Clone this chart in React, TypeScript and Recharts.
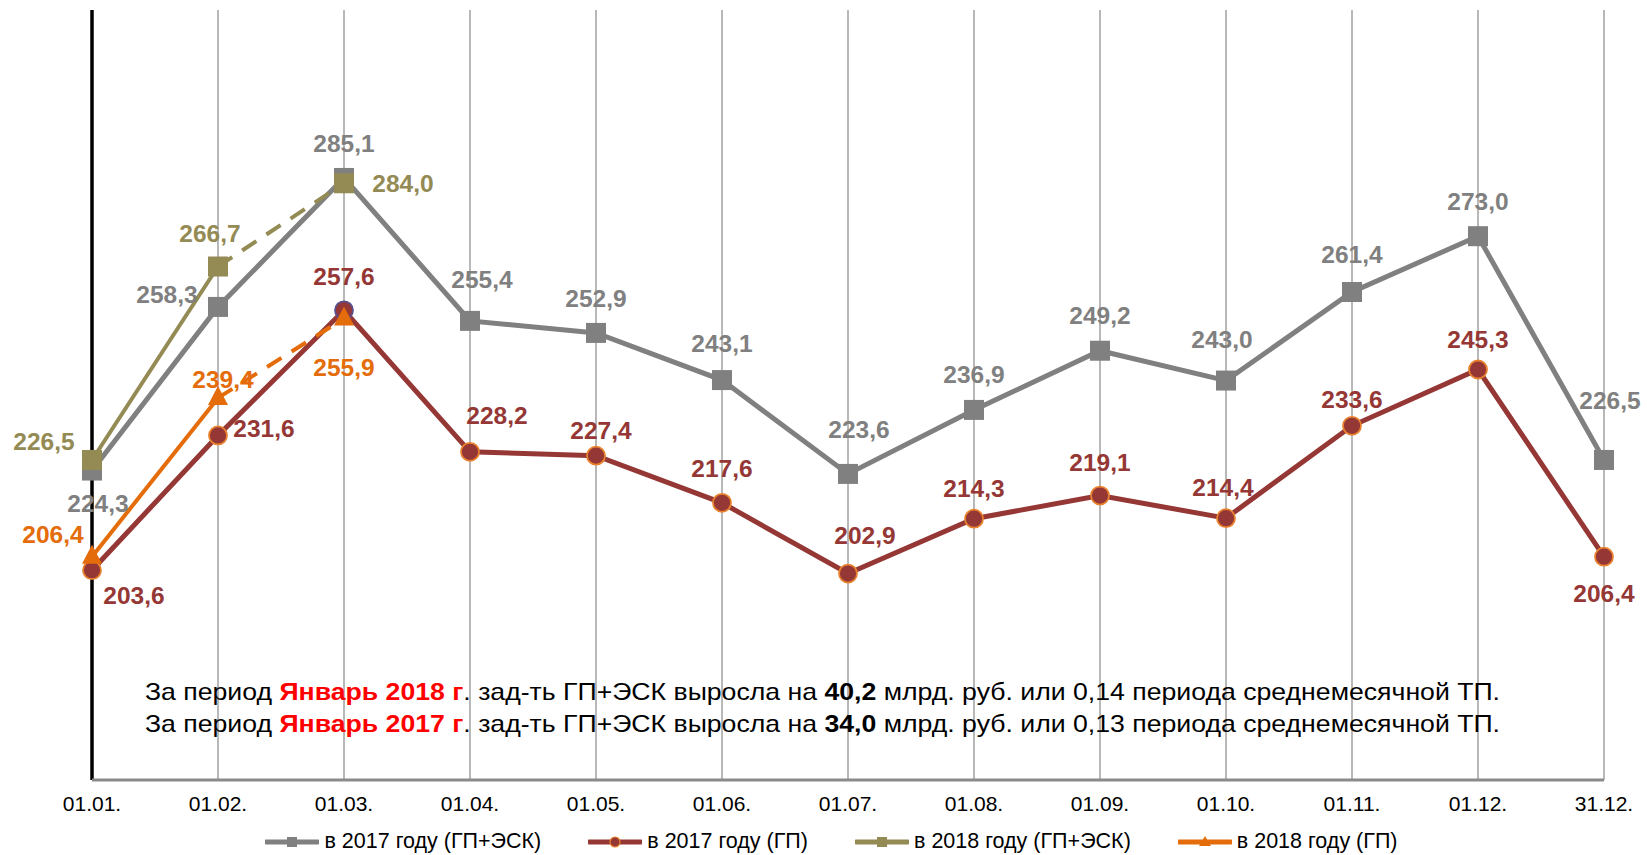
import React from 'react';
import { LineChart, Line, XAxis, YAxis, CartesianGrid, Legend, LabelList, ReferenceLine } from 'recharts';

const dates = ['01.01.', '01.02.', '01.03.', '01.04.', '01.05.', '01.06.', '01.07.', '01.08.', '01.09.', '01.10.', '01.11.', '01.12.', '31.12.'];
const total2017 = [224.3, 258.3, 285.1, 255.4, 252.9, 243.1, 223.6, 236.9, 249.2, 243.0, 261.4, 273.0, 226.5];
const gp2017 = [203.6, 231.6, 257.6, 228.2, 227.4, 217.6, 202.9, 214.3, 219.1, 214.4, 233.6, 245.3, 206.4];
const total2018 = [226.5, 266.7, 284.0];
const gp2018 = [206.4, 239.4, 255.9];

const legendItems = [
  { name: 'в 2017 году (ГП+ЭСК)', color: '#808080', marker: 'square' },
  { name: 'в 2017 году (ГП)', color: '#953735', marker: 'circle' },
  { name: 'в 2018 году (ГП+ЭСК)', color: '#948A54', marker: 'square' },
  { name: 'в 2018 году (ГП)', color: '#E46C0A', marker: 'triangle' },
];

// label offsets from the point (centre of text), px
const shiftTotal2017 = [[6, 33], [-51, -13], [0, -35], [12, -42], [0, -35], [0, -37], [11, -45], [0, -36], [0, -36], [-4, -41], [0, -38], [0, -35], [6, -60]];
const shiftGp2017 = [[42, 25], [46, -7], [0, -34], [27, -37], [5, -25], [0, -35], [17, -38], [0, -31], [0, -33], [-3, -31], [0, -27], [0, -30], [0, 36]];
const shiftTotal2018 = [[-48, -19], [-8, -33], [59, 0]];
const shiftGp2018 = [[-39, -23], [5, -19], [0, 49]];

const data = dates.map((d, i) => ({
  date: d,
  t17: total2017[i],
  g17: gp2017[i],
  t18: i < total2018.length ? total2018[i] : null,
  t18solid: i < 2 ? total2018[i] : null,
  t18dash: i >= 1 && i < total2018.length ? total2018[i] : null,
  g18: i < gp2018.length ? gp2018[i] : null,
  g18solid: i < 2 ? gp2018[i] : null,
  g18dash: i >= 1 && i < gp2018.length ? gp2018[i] : null,
}));

const FONT = '"Liberation Sans", Arial, sans-serif';
const fmt = (v: number) => v.toFixed(1).replace('.', ',');

const makeLabel = (color: string, shifts: number[][]) => (p: any) => {
  const { x, y, value, index } = p;
  if (value == null || y == null) return null;
  const [dx, dy] = shifts[index] || [0, -35];
  return (
    <text key={`l${index}`} x={x + dx} y={y + dy} dy="0.36em" textAnchor="middle"
      fill={color} fontSize={24.5} fontWeight="bold" fontFamily={FONT}>
      {fmt(value)}
    </text>
  );
};

const squareDot = (color: string) => (p: any) => {
  const { cx, cy, index } = p;
  if (cy == null || p.value == null) return <g key={`s${index}`} />;
  return <rect key={`s${index}`} x={cx - 10} y={cy - 10} width={20} height={20} fill={color} />;
};

const circleDot = (p: any) => {
  const { cx, cy, index } = p;
  if (cy == null) return <g key={`c${index}`} />;
  return (
    <circle key={`c${index}`} cx={cx} cy={cy} r={9} fill="#953735"
      stroke={index === 2 ? '#5A4E8C' : '#E9822F'} strokeWidth={1.8} />
  );
};

const triDot = (p: any) => {
  const { cx, cy, index } = p;
  if (cy == null || p.value == null) return <g key={`t${index}`} />;
  return <polygon key={`t${index}`} points={`${cx},${cy - 12} ${cx - 10},${cy + 7} ${cx + 10},${cy + 7}`} fill="#E46C0A" />;
};

const LegendIcon = ({ color, marker }: { color: string; marker: string }) => (
  <svg width={54} height={14} style={{ display: 'block' }}>
    <line x1={1} y1={7} x2={53} y2={7} stroke={color} strokeWidth={5} strokeLinecap="round" />
    {marker === 'square' && <rect x={22} y={2} width={10} height={10} fill={color} />}
    {marker === 'circle' && <circle cx={27} cy={7} r={5} fill={color} stroke="#E9822F" strokeWidth={1.2} />}
    {marker === 'triangle' && <polygon points="27,1 21,11 33,11" fill={color} />}
  </svg>
);

const renderLegend = () => (
  <div style={{ display: 'flex', justifyContent: 'center', alignItems: 'center', gap: 47, fontFamily: FONT, fontSize: 21.5, color: '#000' }}>
    {legendItems.map((it) => (
      <div key={it.name} style={{ display: 'flex', alignItems: 'center', gap: 5 }}>
        <LegendIcon color={it.color} marker={it.marker} />
        <span>{it.name}</span>
      </div>
    ))}
  </div>
);

export default function App() {
  return (
    <div style={{ position: 'absolute', left: 0, top: 0, width: 1647, height: 855, background: '#fff' }}>
      <LineChart width={1647} height={855} data={data} margin={{ top: 10, right: 43, bottom: 30, left: 92 }}>
        <CartesianGrid horizontal={false} stroke="#A0A0A0" strokeWidth={1.5} />
        <XAxis dataKey="date" scale="point" padding={{ left: 0, right: 0 }} height={45}
          axisLine={{ stroke: '#8A8A8A', strokeWidth: 3 }} tickLine={false} tickMargin={10}
          tick={{ fill: '#000', fontSize: 21, fontFamily: FONT }} interval={0} />
        <YAxis domain={[160, 320]} width={0} tick={false} tickLine={false} axisLine={false} allowDataOverflow />
        <ReferenceLine x={dates[0]} stroke="#000" strokeWidth={3.5} />
        <Legend verticalAlign="middle" align="center" layout="horizontal" content={renderLegend}
          wrapperStyle={{ top: 829, left: 8, width: 1647, height: 28 }} />

        <Line dataKey="t17" stroke="#808080" strokeWidth={5} isAnimationActive={false}
          dot={squareDot('#808080')} activeDot={false}>
          <LabelList dataKey="t17" content={makeLabel('#808080', shiftTotal2017)} />
        </Line>
        <Line dataKey="g17" stroke="#953735" strokeWidth={5} isAnimationActive={false}
          dot={circleDot} activeDot={false}>
          <LabelList dataKey="g17" content={makeLabel('#953735', shiftGp2017)} />
        </Line>

        <Line dataKey="t18solid" stroke="#948A54" strokeWidth={4} isAnimationActive={false} dot={false} activeDot={false} />
        <Line dataKey="t18dash" stroke="#948A54" strokeWidth={4} strokeDasharray="17 12" isAnimationActive={false} dot={false} activeDot={false} />
        <Line dataKey="t18" stroke="none" isAnimationActive={false} dot={squareDot('#948A54')} activeDot={false}>
          <LabelList dataKey="t18" content={makeLabel('#948A54', shiftTotal2018)} />
        </Line>

        <Line dataKey="g18solid" stroke="#E46C0A" strokeWidth={4} isAnimationActive={false} dot={false} activeDot={false} />
        <Line dataKey="g18dash" stroke="#E46C0A" strokeWidth={4} strokeDasharray="17 12" isAnimationActive={false} dot={false} activeDot={false} />
        <Line dataKey="g18" stroke="none" isAnimationActive={false} dot={triDot} activeDot={false}>
          <LabelList dataKey="g18" content={makeLabel('#E46C0A', shiftGp2018)} />
        </Line>
      </LineChart>

      <div style={{ position: 'absolute', left: 145, top: 676, fontFamily: FONT, fontSize: 24, lineHeight: '32px', color: '#000', whiteSpace: 'nowrap', transform: 'scaleX(1.11)', transformOrigin: '0 0' }}>
        <div>
          За период <b style={{ color: '#FF0000' }}>Январь 2018 г</b>. зад-ть ГП+ЭСК выросла на <b>40,2</b> млрд. руб. или 0,14 периода среднемесячной ТП.
        </div>
        <div>
          За период <b style={{ color: '#FF0000' }}>Январь 2017 г</b>. зад-ть ГП+ЭСК выросла на <b>34,0</b> млрд. руб. или 0,13 периода среднемесячной ТП.
        </div>
      </div>
    </div>
  );
}
